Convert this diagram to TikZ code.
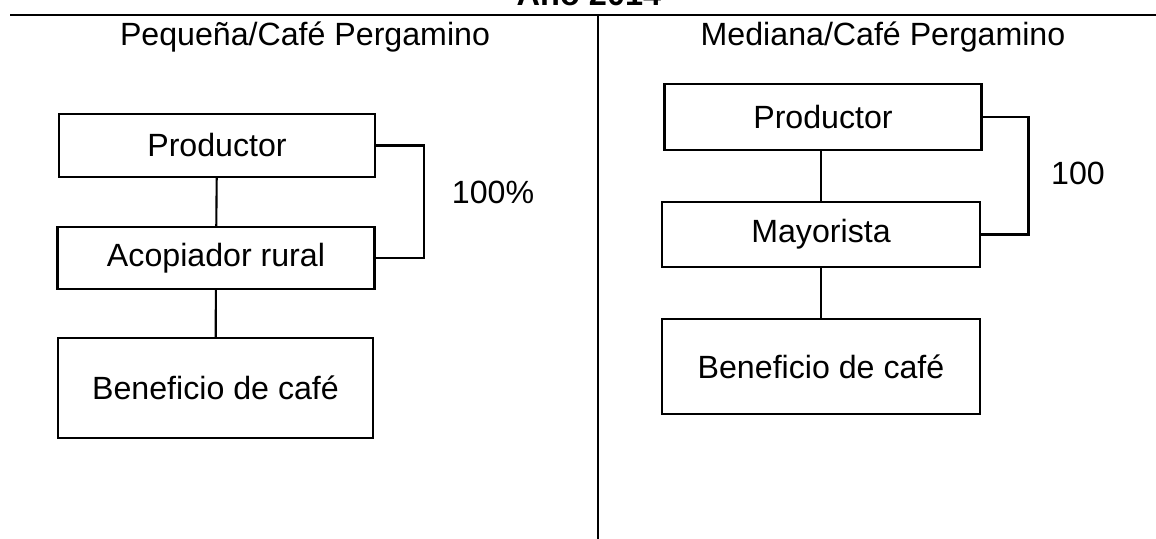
\documentclass[tikz,border=0pt]{standalone}
\usepackage{fontspec}
\setmainfont{Liberation Sans}
\usepackage{tikz}
\usetikzlibrary{positioning}
\tikzset{box/.style = {draw, line width = 1.2pt, inner sep = 0, font = \fontsize{18.3}{21}\selectfont}}
\tikzset{lbl/.style = {inner sep = 0, font = \fontsize{18.3}{21}\selectfont}}
\begin{document}
\begin{tikzpicture}[x = 0.02cm, y = -0.02cm]
      \useasboundingbox (0, 0) rectangle (1156, 538);
      \clip (0, 0) rectangle (1156, 538);
      \node [lbl, anchor = base, font = \fontsize{18.5}{21}\selectfont\bfseries] (year) at (589, 5) {Año 2014};
      \draw [line width = 1.4pt] (10, 15) -- (1156, 15);
      \draw [line width = 1.2pt] (598, 15) -- (598, 540);
      \node [lbl, anchor = base] (headA) at (305, 45) {Pequeña/Café Pergamino};
      \node [lbl, anchor = base] (headB) at (883, 45) {Mediana/Café Pergamino};
      \node [box, minimum width = 6.32cm, minimum height = 1.26cm] (prodA) at (217, 145.5) {Productor};
      \node [box, minimum width = 6.34cm, minimum height = 1.24cm] (acopA) at (216, 258) {Acopiador rural};
      \node [box, minimum width = 6.3cm, minimum height = 2cm] (benA) at (215.5, 388) {Beneficio de café};
      \draw [line width = 1.2pt] (prodA) -- (acopA);
      \draw [line width = 1.2pt] (acopA) -- (benA);
      \draw [line width = 1.2pt] (prodA.east) -- ++(48, 0) |- (acopA.east);
      \node [lbl] (pctA) at (493, 192) {100\%};
      \node [box, minimum width = 6.34cm, minimum height = 1.32cm] (prodB) at (823, 117) {Productor};
      \node [box, minimum width = 6.36cm, minimum height = 1.3cm] (mayB) at (821, 234.5) {Mayorista};
      \node [box, minimum width = 6.36cm, minimum height = 1.9cm] (benB) at (821, 366.5) {Beneficio de café};
      \draw [line width = 1.2pt] (prodB.south -| mayB) -- (mayB);
      \draw [line width = 1.2pt] (mayB) -- (benB);
      \draw [line width = 1.2pt] (prodB.east) -- ++(46, 0) |- (mayB.east);
      \node [lbl] (pctB) at (1078, 173) {100};
    \end{tikzpicture}
\end{document}
